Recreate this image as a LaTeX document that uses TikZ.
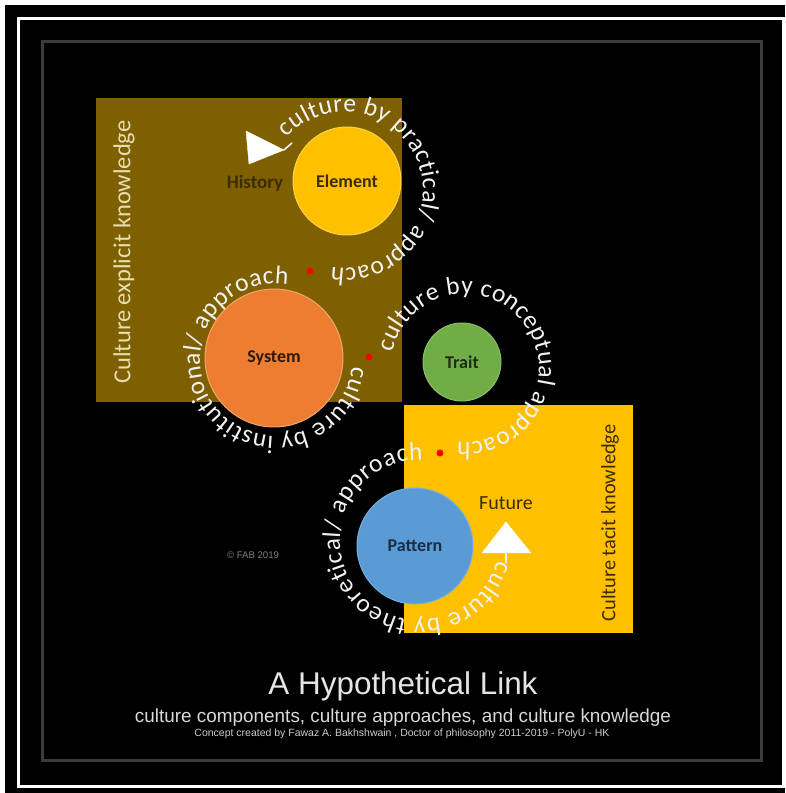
\documentclass[tikz,border=0pt]{standalone}
\usepackage{fontspec}
\usepackage{graphicx}
\setmainfont{Carlito}
\newfontfamily\arialfam{Liberation Sans}
\usetikzlibrary{decorations.text}
\definecolor{brownbox}{HTML}{7F6000}
\definecolor{goldbox}{HTML}{FFC000}
\definecolor{sysorange}{HTML}{ED7D31}
\definecolor{traitgreen}{HTML}{70AD47}
\definecolor{patblue}{HTML}{5B9BD5}
\definecolor{arcwhite}{HTML}{F2F2F2}
\definecolor{darklabel}{HTML}{3B2C00}
\definecolor{palelabel}{HTML}{E8DDB0}
\definecolor{framegray}{HTML}{3C3C3C}
\newcommand\arcfnt{\fontsize{25.5}{30}\selectfont}
\begin{document}
\begin{tikzpicture}[x=1pt,y=1pt,
  lbl/.style={font=\fontsize{18}{20}\selectfont\bfseries},
  reddot/.style={circle, fill=red, inner sep=0pt, minimum size=7pt},
  comp/.style={circle, inner sep=0pt, line width=1pt},
  arctext/.style={decorate, decoration={text along path, text align={fit to path}, text color=arcwhite, text={|\arcfnt|#1}}},
  tri/.style={fill=white, draw=white, line join=round},
  tick/.style={draw=arcwhite, line width=1.6pt}]
\useasboundingbox (0,0) rectangle (785,793);
\fill[white] (0,0) rectangle (785,793);
\fill[black] (5,0) rectangle (785,788);
\draw[white, line width=3pt] (18.5,774.5) rectangle (783.5,6.5);
\draw[framegray, line width=3pt] (42,751) rectangle (761,32);
% knowledge boxes
\fill[brownbox] (96,695) rectangle (402,391);
\fill[goldbox] (404,388) rectangle (633,160);
% components
\node[comp, fill=goldbox, draw=goldbox!70!white, minimum size=108pt, lbl, text=darklabel] (element) at (347,612) {Element};
\node[comp, fill=sysorange, draw=sysorange!70!white, minimum size=138pt, lbl, text={black!80!sysorange}] (system) at (274,435) {System};
\node[comp, fill=traitgreen, draw=traitgreen!80!white, minimum size=78pt, lbl, text={black!75!traitgreen}] (trait) at (462,431) {Trait};
\node[comp, fill=patblue, draw=patblue!80!white, minimum size=116pt, lbl, text={black!70!patblue}] (pattern) at (415,247) {Pattern};
% side labels
\node[font=\fontsize{19}{22}\selectfont\bfseries, text=darklabel] (history) at (255,610) {History};
\node[font=\fontsize{20}{22}\selectfont, text=darklabel] (future) at (506,290) {Future};
\node[rotate=90, text=palelabel, inner sep=0pt] (explicit) at (124,541) {\resizebox{263pt}{!}{Culture explicit knowledge}};
\node[rotate=90, text=darklabel, inner sep=0pt] (tacit) at (610,270) {\resizebox{197pt}{!}{Culture tacit knowledge}};
% approach arcs
\path[arctext={culture by practical/ approach}] (345,603) ++(138:78pt) arc[start angle=138, end angle=-100, radius=78pt];
\path[arctext={culture by institutional/ approach}] (276,433) ++(-5:76pt) arc[start angle=-5, end angle=-279, radius=76pt];
\path[arctext={culture by conceptual approach}] (465,425) ++(168:74pt) arc[start angle=168, end angle=-96, radius=74pt];
\path[arctext={culture by theoretical/ approach}] (420,253) ++(-15:80pt) arc[start angle=-15, end angle=-272, radius=80pt];
% red junction dots
\node[reddot] (dotA) at (310,522) {};
\node[reddot] (dotB) at (369,436) {};
\node[reddot] (dotC) at (440,340) {};
% arrow heads
\coordinate (histtip) at (284,643);
\coordinate (histend) at (292,650);
\fill[tri] (246,662) -- (249,629) -- (histtip) -- cycle;
\draw[tick] (histtip) -- (histend);
\coordinate (futtip) at (506,240);
\coordinate (futend) at (506,230);
\fill[tri] (506,271) -- (482,240) -- (531,240) -- cycle;
\draw[tick] (futtip) -- (futend);
% credits
\node[text=gray, inner sep=0pt] (copy) at (253,238) {\resizebox{52pt}{!}{\arialfam \textcopyright{} FAB 2019}};
\node[text=white!90!black, inner sep=0pt] (title) at (403,107) {\resizebox{269pt}{!}{\arialfam A Hypothetical Link}};
\node[text=white!85!black, inner sep=0pt] (subtitle) at (403,75) {\resizebox{536pt}{!}{\arialfam culture components, culture approaches, and culture knowledge}};
\node[text=white!80!black, inner sep=0pt] (concept) at (402,59) {\resizebox{415pt}{!}{\arialfam Concept created by Fawaz A. Bakhshwain , Doctor of philosophy 2011-2019 - PolyU - HK}};
\end{tikzpicture}
\end{document}
